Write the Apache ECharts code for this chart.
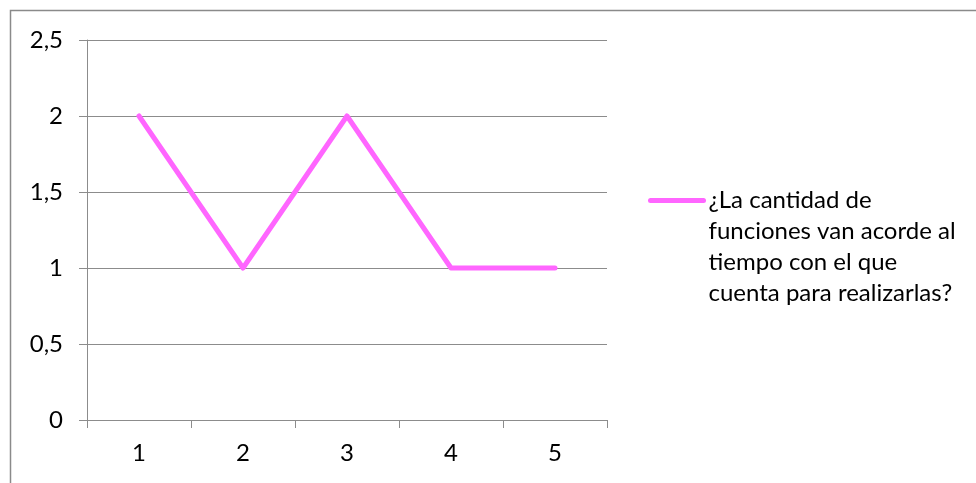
<!DOCTYPE html>
<html>
<head>
<meta charset="utf-8">
<script src="https://cdn.jsdelivr.net/npm/echarts@6/dist/echarts.min.js"></script>
<style>
  html, body { margin: 0; padding: 0; background: #fff; }
  #chart { width: 976px; height: 483px; }
</style>
</head>
<body>
<div id="chart"></div>
<script>
// Survey answers per respondent
const categories = ['1', '2', '3', '4', '5'];
const seriesName = '¿La cantidad de\nfunciones van acorde al\ntiempo con el que\ncuenta para realizarlas?';
const values = [2, 1, 2, 1, 1];

const FONT = 'Lato';
const FONT_SIZE = 24;
const GRID = '#8c8c8c';
const PINK = '#ff66ff';

const chart = echarts.init(document.getElementById('chart'));
chart.setOption({
  backgroundColor: '#fff',
  animation: false,
  textStyle: { fontFamily: FONT },
  graphic: [{
    type: 'rect',
    shape: { x: 10.5, y: 10.5, width: 1000, height: 600 },
    style: { fill: 'none', stroke: '#8a8a8a', lineWidth: 1.5 },
    silent: true
  }],
  grid: { left: 87, right: 369, top: 40, bottom: 63 },
  legend: {
    left: 648,
    top: 92,
    padding: 0,
    itemWidth: 53,
    itemHeight: 6,
    itemGap: 6,
    // leading blank lines keep the sample line level with the first text line
    formatter: name => '\n\n\n' + name,
    itemStyle: { opacity: 0 },
    lineStyle: { width: 5, color: PINK, cap: 'round' },
    textStyle: {
      fontFamily: FONT, fontSize: FONT_SIZE, color: '#000', lineHeight: 31
    },
    data: [{ name: seriesName }]
  },
  xAxis: {
    type: 'category',
    data: categories,
    boundaryGap: true,
    axisLine: { lineStyle: { color: GRID, width: 1 } },
    axisTick: { show: true, length: 8, alignWithLabel: false, lineStyle: { color: GRID } },
    axisLabel: { color: '#000', fontSize: FONT_SIZE, fontFamily: FONT, margin: 21 },
    splitLine: { show: false }
  },
  yAxis: {
    type: 'value',
    min: 0, max: 2.5, interval: 0.5,
    axisLine: { show: true, lineStyle: { color: GRID, width: 1 } },
    axisTick: { show: true, length: 8, lineStyle: { color: GRID } },
    axisLabel: {
      color: '#000', fontSize: FONT_SIZE, fontFamily: FONT, margin: 24,
      formatter: v => String(v).replace('.', ',')
    },
    splitLine: { show: true, lineStyle: { color: GRID, width: 1 } }
  },
  series: [{
    name: seriesName,
    type: 'line',
    data: values,
    symbol: 'none',
    color: PINK,
    lineStyle: { color: PINK, width: 5, cap: 'round', join: 'round' }
  }]
});
</script>
</body>
</html>
